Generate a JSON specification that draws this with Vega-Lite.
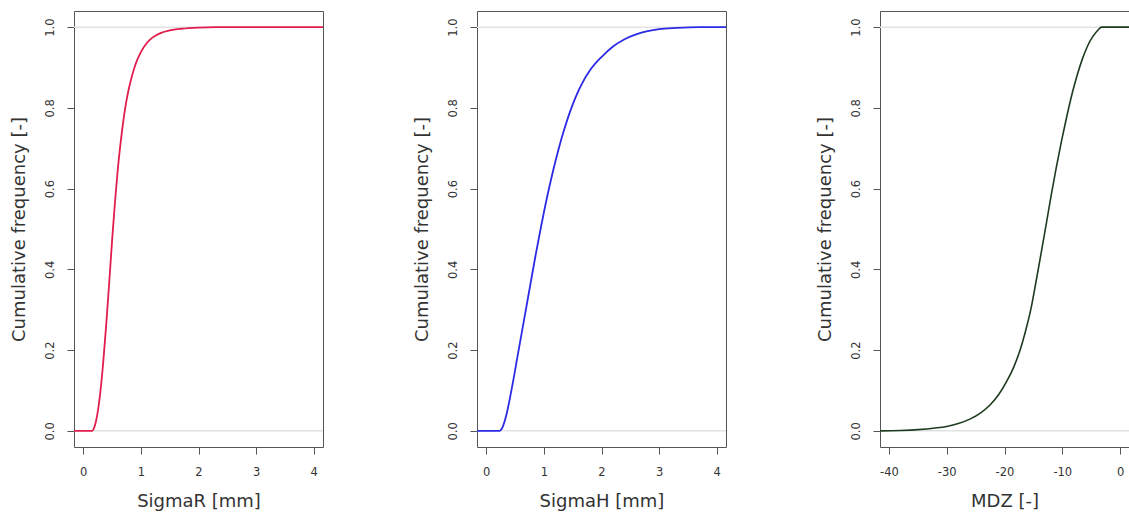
{
  "$schema": "https://vega.github.io/schema/vega-lite/v6.json",
  "background": "white",
  "padding": {"left": 9, "top": 10, "right": 0, "bottom": 0},
  "spacing": 154,
  "bounds": "flush",
  "config": {
    "view": {"stroke": "#555", "strokeWidth": 1},
    "axis": {
      "domain": false, "grid": false, "tickColor": "#555", "tickSize": 7, "tickWidth": 1,
      "labelFont": "DejaVu Sans", "labelFontSize": 11.5, "labelColor": "#333",
      "titleFont": "DejaVu Sans", "titleFontSize": 18, "titleFontWeight": "normal", "titleColor": "#333",
      "labelFlush": false, "labelOverlap": false
    }
  },
  "hconcat": [
    {
      "width": 249, "height": 436,
      "layer": [
        {
          "data": {"values": [{"y": 0}, {"y": 1}]},
          "mark": {"type": "rule", "color": "#e2e2e2", "strokeWidth": 1.5},
          "encoding": {"y": {"field": "y", "type": "quantitative", "scale": {"domain": [-0.04, 1.04], "nice": false, "zero": false}}}
        },
        {
          "data": {"values": [
            {"SigmaR": -0.16, "F": 0}, {"SigmaR": 0.15, "F": 0}, {"SigmaR": 0.2, "F": 0.012}, {"SigmaR": 0.25, "F": 0.045},
            {"SigmaR": 0.3, "F": 0.1}, {"SigmaR": 0.35, "F": 0.175}, {"SigmaR": 0.4, "F": 0.265}, {"SigmaR": 0.45, "F": 0.365},
            {"SigmaR": 0.5, "F": 0.47}, {"SigmaR": 0.55, "F": 0.565}, {"SigmaR": 0.6, "F": 0.648}, {"SigmaR": 0.65, "F": 0.715},
            {"SigmaR": 0.7, "F": 0.772}, {"SigmaR": 0.75, "F": 0.818}, {"SigmaR": 0.8, "F": 0.853}, {"SigmaR": 0.9, "F": 0.905},
            {"SigmaR": 1.0, "F": 0.938}, {"SigmaR": 1.1, "F": 0.96}, {"SigmaR": 1.2, "F": 0.974}, {"SigmaR": 1.35, "F": 0.986},
            {"SigmaR": 1.5, "F": 0.992}, {"SigmaR": 1.7, "F": 0.996}, {"SigmaR": 2.0, "F": 0.999}, {"SigmaR": 2.3, "F": 1.0},
            {"SigmaR": 4.16, "F": 1.0}
          ]},
          "mark": {"type": "line", "color": "#e21c4c", "strokeWidth": 1.8, "interpolate": "monotone"},
          "encoding": {
            "x": {"field": "SigmaR", "type": "quantitative", "scale": {"domain": [-0.16, 4.16], "nice": false, "zero": false},
                  "axis": {"title": "SigmaR [mm]", "values": [0, 1, 2, 3, 4], "labelExpr": "'' + datum.value", "labelPadding": 21, "labelBaseline": "alphabetic",
                           "titleBaseline": "alphabetic", "titleX": 124.5, "titleY": 59}},
            "y": {"field": "F", "type": "quantitative", "scale": {"domain": [-0.04, 1.04], "nice": false, "zero": false},
                  "axis": {"title": "Cumulative frequency [-]", "values": [0, 0.2, 0.4, 0.6, 0.8, 1.0], "format": ".1f",
                           "labelAngle": -90, "labelAlign": "center", "labelBaseline": "alphabetic", "labelPadding": 13.5,
                           "titleAngle": -90, "titleAlign": "center", "titleBaseline": "alphabetic", "titleX": -50, "titleY": 218}}
          }
        }
      ]
    },
    {
      "width": 249, "height": 436,
      "layer": [
        {
          "data": {"values": [{"y": 0}, {"y": 1}]},
          "mark": {"type": "rule", "color": "#e2e2e2", "strokeWidth": 1.5},
          "encoding": {"y": {"field": "y", "type": "quantitative", "scale": {"domain": [-0.04, 1.04], "nice": false, "zero": false}}}
        },
        {
          "data": {"values": [
            {"SigmaH": -0.16, "F": 0}, {"SigmaH": 0.23, "F": 0}, {"SigmaH": 0.28, "F": 0.008}, {"SigmaH": 0.35, "F": 0.04},
            {"SigmaH": 0.45, "F": 0.11}, {"SigmaH": 0.55, "F": 0.19}, {"SigmaH": 0.65, "F": 0.27}, {"SigmaH": 0.75, "F": 0.35},
            {"SigmaH": 0.85, "F": 0.43}, {"SigmaH": 0.95, "F": 0.505}, {"SigmaH": 1.05, "F": 0.575}, {"SigmaH": 1.15, "F": 0.638},
            {"SigmaH": 1.25, "F": 0.695}, {"SigmaH": 1.35, "F": 0.745}, {"SigmaH": 1.45, "F": 0.789}, {"SigmaH": 1.55, "F": 0.826},
            {"SigmaH": 1.65, "F": 0.857}, {"SigmaH": 1.8, "F": 0.893}, {"SigmaH": 2.0, "F": 0.926}, {"SigmaH": 2.2, "F": 0.952},
            {"SigmaH": 2.4, "F": 0.97}, {"SigmaH": 2.6, "F": 0.982}, {"SigmaH": 2.8, "F": 0.99}, {"SigmaH": 3.0, "F": 0.995},
            {"SigmaH": 3.3, "F": 0.998}, {"SigmaH": 3.7, "F": 1.0}, {"SigmaH": 4.16, "F": 1.0}
          ]},
          "mark": {"type": "line", "color": "#2b2be6", "strokeWidth": 1.8, "interpolate": "monotone"},
          "encoding": {
            "x": {"field": "SigmaH", "type": "quantitative", "scale": {"domain": [-0.16, 4.16], "nice": false, "zero": false},
                  "axis": {"title": "SigmaH [mm]", "values": [0, 1, 2, 3, 4], "labelExpr": "'' + datum.value", "labelPadding": 21, "labelBaseline": "alphabetic",
                           "titleBaseline": "alphabetic", "titleX": 124.5, "titleY": 59}},
            "y": {"field": "F", "type": "quantitative", "scale": {"domain": [-0.04, 1.04], "nice": false, "zero": false},
                  "axis": {"title": "Cumulative frequency [-]", "values": [0, 0.2, 0.4, 0.6, 0.8, 1.0], "format": ".1f",
                           "labelAngle": -90, "labelAlign": "center", "labelBaseline": "alphabetic", "labelPadding": 13.5,
                           "titleAngle": -90, "titleAlign": "center", "titleBaseline": "alphabetic", "titleX": -50, "titleY": 218}}
          }
        }
      ]
    },
    {
      "width": 249, "height": 436,
      "layer": [
        {
          "data": {"values": [{"y": 0}, {"y": 1}]},
          "mark": {"type": "rule", "color": "#e2e2e2", "strokeWidth": 1.5},
          "encoding": {"y": {"field": "y", "type": "quantitative", "scale": {"domain": [-0.04, 1.04], "nice": false, "zero": false}}}
        },
        {
          "data": {"values": [
            {"MDZ": -41.55, "F": 0.0}, {"MDZ": -38, "F": 0.001}, {"MDZ": -35, "F": 0.003}, {"MDZ": -32, "F": 0.007},
            {"MDZ": -30, "F": 0.011}, {"MDZ": -28, "F": 0.018}, {"MDZ": -26, "F": 0.029}, {"MDZ": -24, "F": 0.046},
            {"MDZ": -22.5, "F": 0.064}, {"MDZ": -21, "F": 0.09}, {"MDZ": -19.6, "F": 0.123}, {"MDZ": -18.4, "F": 0.158},
            {"MDZ": -17.3, "F": 0.2}, {"MDZ": -16.4, "F": 0.245}, {"MDZ": -15.5, "F": 0.297}, {"MDZ": -14.6, "F": 0.365},
            {"MDZ": -13.7, "F": 0.437}, {"MDZ": -12.8, "F": 0.51}, {"MDZ": -11.9, "F": 0.585}, {"MDZ": -11.0, "F": 0.655},
            {"MDZ": -10.1, "F": 0.72}, {"MDZ": -9.2, "F": 0.78}, {"MDZ": -8.3, "F": 0.835}, {"MDZ": -7.4, "F": 0.882},
            {"MDZ": -6.5, "F": 0.922}, {"MDZ": -5.6, "F": 0.954}, {"MDZ": -4.7, "F": 0.977}, {"MDZ": -3.8, "F": 0.993},
            {"MDZ": -3.2, "F": 1.0}, {"MDZ": 1.55, "F": 1.0}
          ]},
          "mark": {"type": "line", "color": "#1f3b1f", "strokeWidth": 1.6, "interpolate": "monotone"},
          "encoding": {
            "x": {"field": "MDZ", "type": "quantitative", "scale": {"domain": [-41.55, 1.55], "nice": false, "zero": false},
                  "axis": {"title": "MDZ [-]", "values": [-40, -30, -20, -10, 0], "labelExpr": "'' + datum.value", "labelPadding": 21, "labelBaseline": "alphabetic",
                           "titleBaseline": "alphabetic", "titleX": 124.5, "titleY": 59}},
            "y": {"field": "F", "type": "quantitative", "scale": {"domain": [-0.04, 1.04], "nice": false, "zero": false},
                  "axis": {"title": "Cumulative frequency [-]", "values": [0, 0.2, 0.4, 0.6, 0.8, 1.0], "format": ".1f",
                           "labelAngle": -90, "labelAlign": "center", "labelBaseline": "alphabetic", "labelPadding": 13.5,
                           "titleAngle": -90, "titleAlign": "center", "titleBaseline": "alphabetic", "titleX": -50, "titleY": 218}}
          }
        }
      ]
    }
  ]
}
